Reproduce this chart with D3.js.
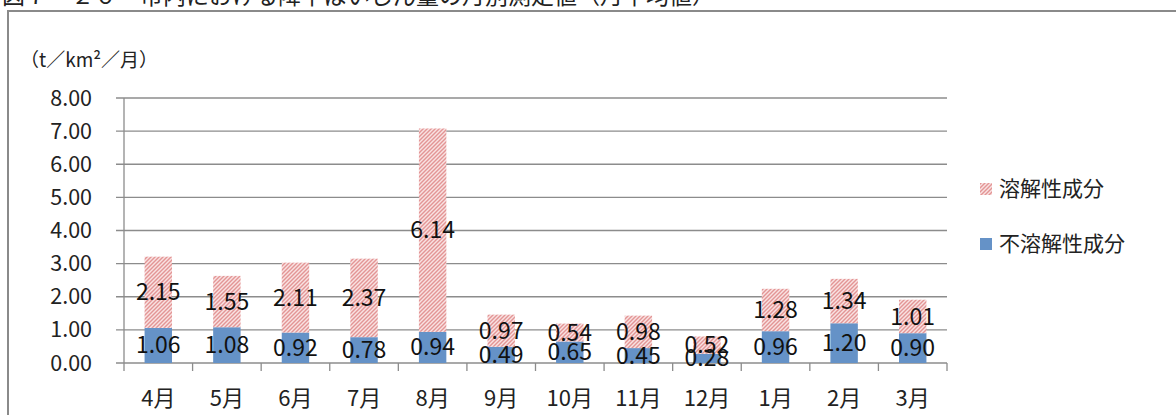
<!DOCTYPE html>
<html><head><meta charset="utf-8">
<script src="https://cdn.jsdelivr.net/npm/d3@7"></script>
<style>
html,body{margin:0;padding:0;background:#fff;}
svg{display:block;font-family:"Noto Sans CJK JP","Noto Sans",sans-serif;}
</style></head>
<body>
<script>
const categories = ["4月","5月","6月","7月","8月","9月","10月","11月","12月","1月","2月","3月"];
const insoluble = [1.06,1.08,0.92,0.78,0.94,0.49,0.65,0.45,0.28,0.96,1.20,0.90];
const soluble   = [2.15,1.55,2.11,2.37,6.14,0.97,0.54,0.98,0.52,1.28,1.34,1.01];
const yTicks = [0,1,2,3,4,5,6,7,8];
const seriesNames = ["溶解性成分","不溶解性成分"];
const titleText = "図７－２０　市内における降下ばいじん量の月別測定値（月平均値）";
const unitText = "（t／km²／月）";

const W = 1176, H = 415;
const svg = d3.select("body").append("svg").attr("width", W).attr("height", H);
const defs = svg.append("defs");
const pat = defs.append("pattern").attr("id","hatch").attr("patternUnits","userSpaceOnUse")
  .attr("width",4).attr("height",4);
pat.append("rect").attr("width",4).attr("height",4).attr("fill","#f9e2e2");
pat.append("path").attr("d","M-1,1 l2,-2 M0,4 l4,-4 M3,5 l2,-2")
  .attr("stroke","#e39595").attr("stroke-width",1.4);

// title (clipped at top, as in the reference)
svg.append("text").attr("x",2).attr("y",4).attr("font-size",23).attr("fill","#222").text(titleText);
// frame
svg.append("rect").attr("x",8).attr("y",11).attr("width",1200).attr("height",450)
  .attr("fill","none").attr("stroke","#8a8a8a").attr("stroke-width",2);

const x0 = 124, x1 = 947;
const x = d3.scaleBand().domain(categories).range([x0,x1]).paddingInner(0.6).paddingOuter(0.3);
const xb = d3.scaleBand().domain(categories).range([x0,x1]);
const y = d3.scaleLinear().domain([0,8]).range([363,98]);

const g = svg.append("g");
g.selectAll("line.grid").data(yTicks).join("line")
  .attr("x1",x0-8).attr("x2",x1).attr("y1",d=>y(d)).attr("y2",d=>y(d))
  .attr("stroke","#8c8c8c").attr("stroke-width",1.3);
g.append("line").attr("x1",x0).attr("x2",x0).attr("y1",y(8)).attr("y2",y(0)+8)
  .attr("stroke","#8c8c8c").attr("stroke-width",1.3);
g.selectAll("line.xt").data(categories.slice(1).concat(["_end"])).join("line")
  .attr("x1",d=>d==="_end"?x1:xb(d)).attr("x2",d=>d==="_end"?x1:xb(d))
  .attr("y1",y(0)).attr("y2",y(0)+8).attr("stroke","#8c8c8c").attr("stroke-width",1.3);

g.selectAll("text.yl").data(yTicks).join("text")
  .attr("x",92).attr("y",d=>y(d)).attr("dy","0.35em").attr("text-anchor","end")
  .attr("font-size",21.5).attr("fill","#222").text(d=>d.toFixed(2));
g.selectAll("text.xl").data(categories).join("text")
  .attr("x",d=>xb(d)+xb.bandwidth()/2).attr("y",398).attr("dy","0.35em").attr("text-anchor","middle")
  .attr("font-size",22).attr("fill","#222").text(d=>d);

svg.append("text").attr("x",20).attr("y",60).attr("dy","0.35em").attr("font-size",19).attr("fill","#222").text(unitText);

const bars = svg.append("g");
bars.selectAll("rect.ins").data(categories).join("rect")
  .attr("x",d=>x(d)).attr("width",x.bandwidth())
  .attr("y",(d,i)=>y(insoluble[i])).attr("height",(d,i)=>y(0)-y(insoluble[i]))
  .attr("fill","#6592c7");
bars.selectAll("rect.sol").data(categories).join("rect")
  .attr("x",d=>x(d)).attr("width",x.bandwidth())
  .attr("y",(d,i)=>y(insoluble[i]+soluble[i])).attr("height",(d,i)=>y(insoluble[i])-y(insoluble[i]+soluble[i]))
  .attr("fill","url(#hatch)");

const lab = svg.append("g").attr("font-size",23).attr("fill","#111").attr("text-anchor","middle");
lab.selectAll("text.li").data(categories).join("text")
  .attr("x",d=>x(d)+x.bandwidth()/2).attr("y",(d,i)=>y(insoluble[i]/2)).attr("dy","0.35em")
  .text((d,i)=>insoluble[i].toFixed(2));
lab.selectAll("text.ls").data(categories).join("text")
  .attr("x",d=>x(d)+x.bandwidth()/2).attr("y",(d,i)=>y(insoluble[i]+soluble[i]/2)).attr("dy","0.35em")
  .text((d,i)=>soluble[i].toFixed(2));

const leg = svg.append("g");
const legFill = ["url(#hatch)","#6592c7"];
const legY = [189,244];
seriesNames.forEach((n,i)=>{
  leg.append("rect").attr("x",980).attr("y",legY[i]-6).attr("width",12).attr("height",12).attr("fill",legFill[i]);
  leg.append("text").attr("x",999).attr("y",legY[i]).attr("dy","0.35em").attr("font-size",21).attr("fill","#222").text(n);
});
</script>
</body></html>
